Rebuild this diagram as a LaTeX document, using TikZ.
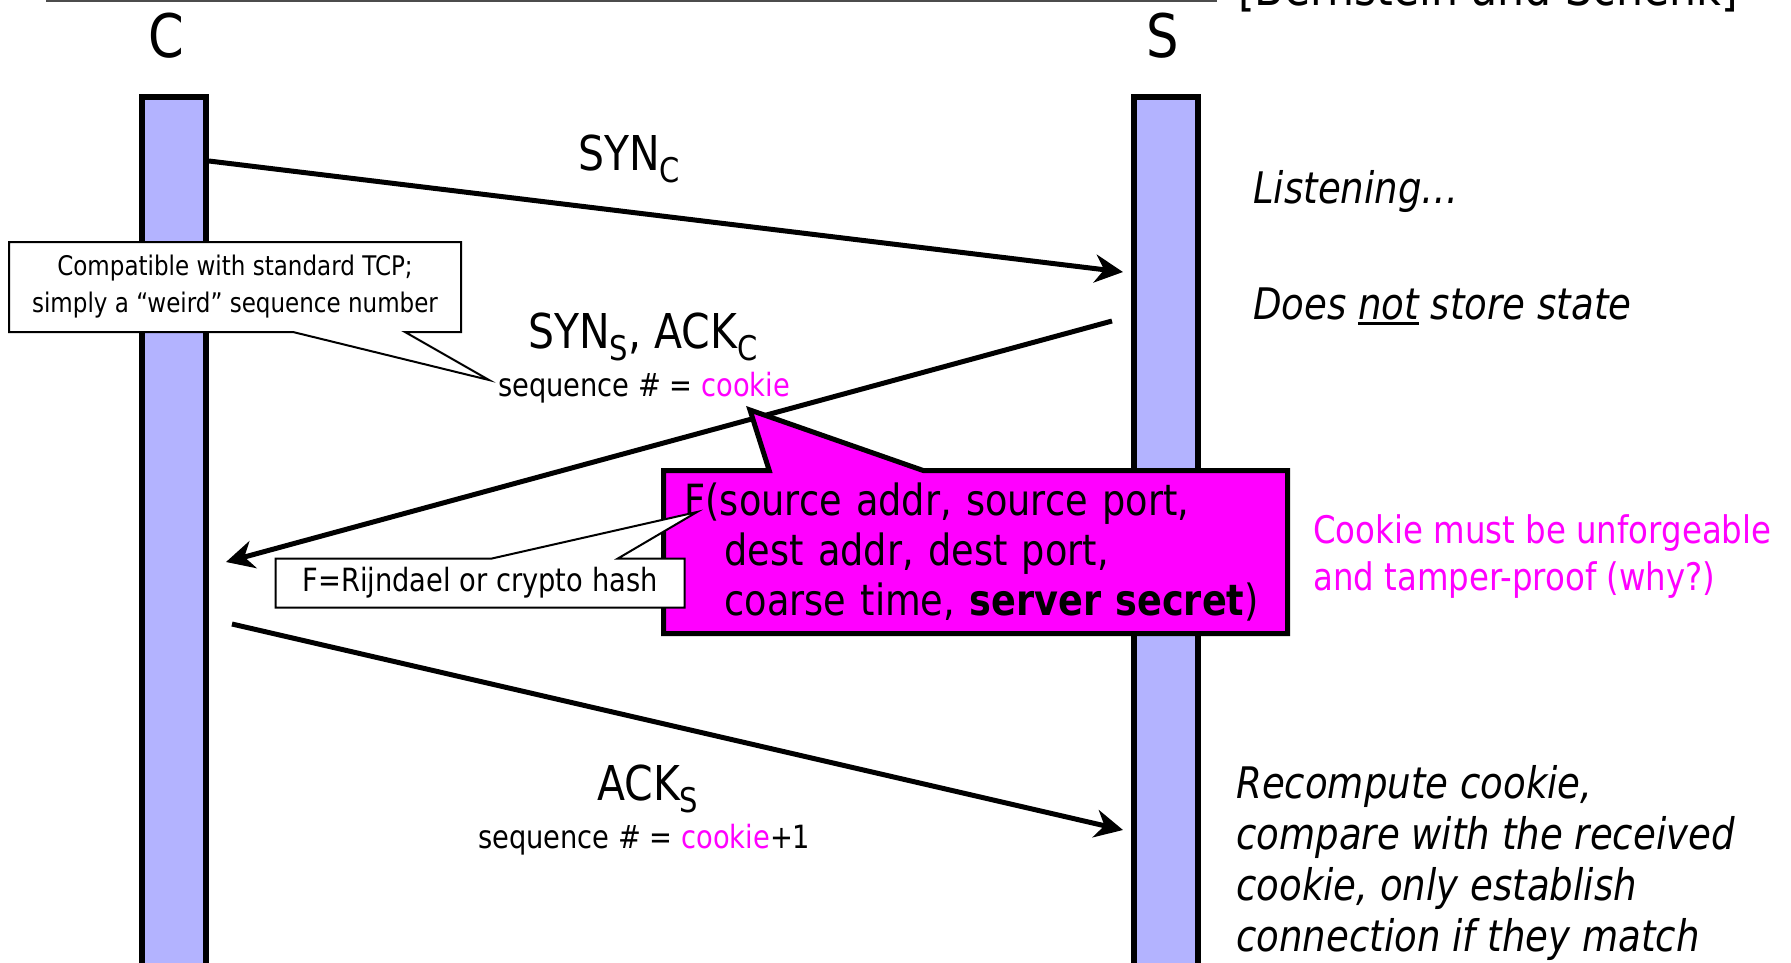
\documentclass[tikz,border=0pt]{standalone}
\usepackage{fontspec}
\setmainfont{DejaVu Sans}[FakeStretch=0.853]
\usetikzlibrary{arrows.meta,shapes.callouts}
\definecolor{lane}{HTML}{B3B3FF}
\definecolor{hot}{HTML}{FF00FF}
\newcommand\fsz[2]{\fontsize{#1pt}{#2pt}\selectfont}
\newcommand\lowsub[1]{\raisebox{-12pt}{\fsz{34}{34}#1}}
\newcommand\ulword[1]{\setbox0=\hbox{#1}\rlap{\rule[-6pt]{\wd0}{3pt}}\box0\relax}
\begin{document}
\begin{tikzpicture}[x=1pt,y=-1pt,
  lifeline/.style={draw=black,line width=6pt,fill=lane,minimum width=64pt,
    minimum height=960pt,inner sep=0pt,anchor=north},
  msg/.style={line width=5pt,-{Stealth[length=28pt,width=28pt,inset=9pt]}},
  txt/.style={inner sep=0pt,anchor=base west},
  party/.style={inner sep=0pt,anchor=base,font=\fsz{60}{64}},
  note/.style={txt,font=\fsz{43.5}{51}\itshape,align=left},
  hint/.style={rectangle callout,draw=black,line width=2pt,fill=white,
    inner sep=0pt,align=center},
]
\useasboundingbox (0,0) rectangle (1791,962);

% rule and reference at the top edge
\draw[line width=4pt,black!70] (46,0) -- (1217,0);
\node[txt,font=\fsz{50}{56}] (ref) at (1238,5) {[Bernstein and Schenk]};

% parties
\node[party] (Cname) at (166,57) {C};
\node[party] (Sname) at (1163,57) {S};
\node[lifeline] (Cbar) at (174,94) {};
\node[lifeline] (Sbar) at (1166,94) {};

% message end points on the lifelines
\coordinate (c1) at (209,161);
\coordinate (s1) at (1123,272);
\coordinate (s2) at (1112,321);
\coordinate (c2) at (226,562);
\coordinate (c3) at (232,624);
\coordinate (s3) at (1123,830);

\draw[msg] (c1) -- (s1);
\draw[msg] (s2) -- (c2);
\draw[msg] (c3) -- (s3);

% message labels
\node[txt,font=\fsz{48}{52}] (m1) at (578,170) {SYN\lowsub{C}};
\node[txt,font=\fsz{48}{52}] (m2) at (528,348) {SYN\lowsub{S}, ACK\lowsub{C}};
\node[txt,font=\fsz{32}{36}] (m2seq) at (498,396) {sequence \# = \textcolor{hot}{cookie}};
\node[txt,font=\fsz{48}{52}] (m3) at (597,800) {ACK\lowsub{S}};
\node[txt,font=\fsz{32}{36}] (m3seq) at (478,848) {sequence \# = \textcolor{hot}{cookie}+1};

% server side remarks (multi-line nodes sit on their last baseline)
\node[note] (listen) at (1253,203) {Listening…};
\node[note] (nostate) at (1253,319) {Does \ulword{not} store state};
\node[txt,font=\fsz{38}{47},text=hot,align=left] (forge) at (1313,590)
  {Cookie must be unforgeable\\and tamper-proof (why?)};
\node[note] (check) at (1236,951)
  {Recompute cookie,\\compare with the received\\cookie, only establish\\connection if they match};

% callouts
\node[hint,font=\fsz{27}{37},minimum width=452pt,minimum height=90pt,
  callout absolute pointer={(489,380)},callout pointer width=112pt] (compat) at (235,287)
  {Compatible with standard TCP;\\simply a “weird” sequence number};

\node[rectangle callout,draw=black,line width=5pt,fill=hot,anchor=north west,
  text width=582pt,inner xsep=21pt,inner ysep=0pt,minimum height=163pt,align=left,
  font=\fsz{43}{50},callout absolute pointer={(750,410)},callout pointer width=154pt]
  (fbox) at (661,468)
  {F(source addr, source port,\\\hspace*{40pt}dest addr, dest port,\\\hspace*{40pt}coarse time, \textbf{server secret})};

\node[hint,font=\fsz{32}{36},minimum width=409pt,minimum height=49pt,
  callout absolute pointer={(697,512)},callout pointer width=126pt] (fdef) at (480,583)
  {F=Rijndael or crypto hash};
\end{tikzpicture}
\end{document}
